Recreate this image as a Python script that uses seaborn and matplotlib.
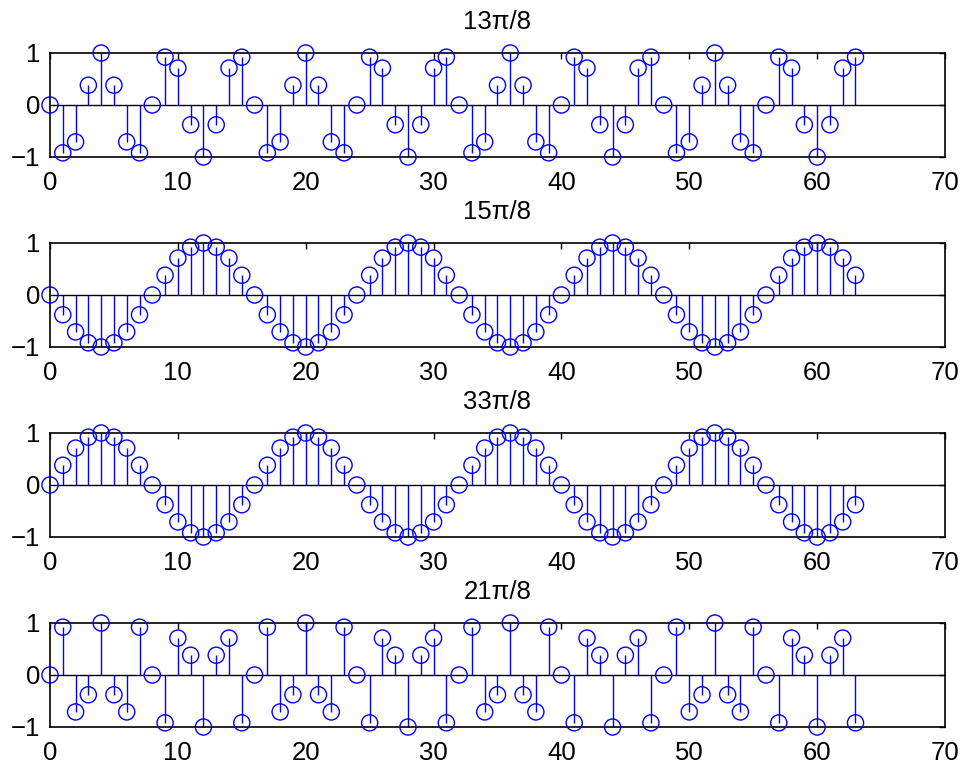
import matplotlib
matplotlib.use("Agg")
import matplotlib.pyplot as plt
import numpy as np
import pandas as pd
import seaborn as sns

# sample index shared by the four panels
n = list(range(64))

titles = ["13\u03c0/8", "15\u03c0/8", "33\u03c0/8", "21\u03c0/8"]

# sample values
x_13 = [0, -0.92, -0.71, 0.38, 1, 0.38, -0.71, -0.92, 0, 0.92, 0.71, -0.38, -1, -0.38, 0.71, 0.92,
        0, -0.92, -0.71, 0.38, 1, 0.38, -0.71, -0.92, 0, 0.92, 0.71, -0.38, -1, -0.38, 0.71, 0.92,
        0, -0.92, -0.71, 0.38, 1, 0.38, -0.71, -0.92, 0, 0.92, 0.71, -0.38, -1, -0.38, 0.71, 0.92,
        0, -0.92, -0.71, 0.38, 1, 0.38, -0.71, -0.92, 0, 0.92, 0.71, -0.38, -1, -0.38, 0.71, 0.92]
x_15 = [0, -0.38, -0.71, -0.92, -1, -0.92, -0.71, -0.38, 0, 0.38, 0.71, 0.92, 1, 0.92, 0.71, 0.38,
        0, -0.38, -0.71, -0.92, -1, -0.92, -0.71, -0.38, 0, 0.38, 0.71, 0.92, 1, 0.92, 0.71, 0.38,
        0, -0.38, -0.71, -0.92, -1, -0.92, -0.71, -0.38, 0, 0.38, 0.71, 0.92, 1, 0.92, 0.71, 0.38,
        0, -0.38, -0.71, -0.92, -1, -0.92, -0.71, -0.38, 0, 0.38, 0.71, 0.92, 1, 0.92, 0.71, 0.38]
x_33 = [0, 0.38, 0.71, 0.92, 1, 0.92, 0.71, 0.38, 0, -0.38, -0.71, -0.92, -1, -0.92, -0.71, -0.38,
        0, 0.38, 0.71, 0.92, 1, 0.92, 0.71, 0.38, 0, -0.38, -0.71, -0.92, -1, -0.92, -0.71, -0.38,
        0, 0.38, 0.71, 0.92, 1, 0.92, 0.71, 0.38, 0, -0.38, -0.71, -0.92, -1, -0.92, -0.71, -0.38,
        0, 0.38, 0.71, 0.92, 1, 0.92, 0.71, 0.38, 0, -0.38, -0.71, -0.92, -1, -0.92, -0.71, -0.38]
x_21 = [0, 0.92, -0.71, -0.38, 1, -0.38, -0.71, 0.92, 0, -0.92, 0.71, 0.38, -1, 0.38, 0.71, -0.92,
        0, 0.92, -0.71, -0.38, 1, -0.38, -0.71, 0.92, 0, -0.92, 0.71, 0.38, -1, 0.38, 0.71, -0.92,
        0, 0.92, -0.71, -0.38, 1, -0.38, -0.71, 0.92, 0, -0.92, 0.71, 0.38, -1, 0.38, 0.71, -0.92,
        0, 0.92, -0.71, -0.38, 1, -0.38, -0.71, 0.92, 0, -0.92, 0.71, 0.38, -1, 0.38, 0.71, -0.92]

series = [x_13, x_15, x_33, x_21]

sns.set_style("white")
plt.rcParams["font.family"] = ["Liberation Sans", "DejaVu Sans"]
plt.rcParams["axes.linewidth"] = 1.2
plt.rcParams["text.color"] = "black"

fig = plt.figure(figsize=(9.61, 7.61), dpi=100)

left, width, height = 50 / 961, 895 / 961, 104 / 761
bottoms = [1 - 157 / 761, 1 - 347 / 761, 1 - 537 / 761, 1 - 727 / 761]

for title, vals, bot in zip(titles, series, bottoms):
    ax = fig.add_axes([left, bot, width, height])
    df = pd.DataFrame({"n": n, "x": vals})

    # baseline across the whole axis, then stems, then open circles
    ax.axhline(0, color="black", lw=1.0, zorder=1)
    ax.vlines(df["n"], 0, df["x"], color="#0000ff", lw=1.0, zorder=2, clip_on=False)
    sns.scatterplot(data=df, x="n", y="x", ax=ax, marker="o", s=135,
                    facecolors="none", edgecolor="#0000ff", linewidth=1.0,
                    zorder=3, clip_on=False, legend=False)

    ax.set_xlim(0, 70)
    ax.set_ylim(-1, 1)
    ax.set_xticks(range(0, 71, 10))
    ax.set_yticks([-1, 0, 1])
    ax.set_xlabel("")
    ax.set_ylabel("")
    ax.set_title(title, fontsize=18.5, pad=17, color="black")
    ax.tick_params(direction="in", length=4.5, width=1.0, labelsize=18.5,
                   top=True, right=True, colors="black")
    ax.tick_params(axis="x", pad=10)
    ax.tick_params(axis="y", pad=7)
    for sp in ax.spines.values():
        sp.set_color("black")
        sp.set_visible(True)

fig.savefig("out.png", dpi=100, facecolor="white")
